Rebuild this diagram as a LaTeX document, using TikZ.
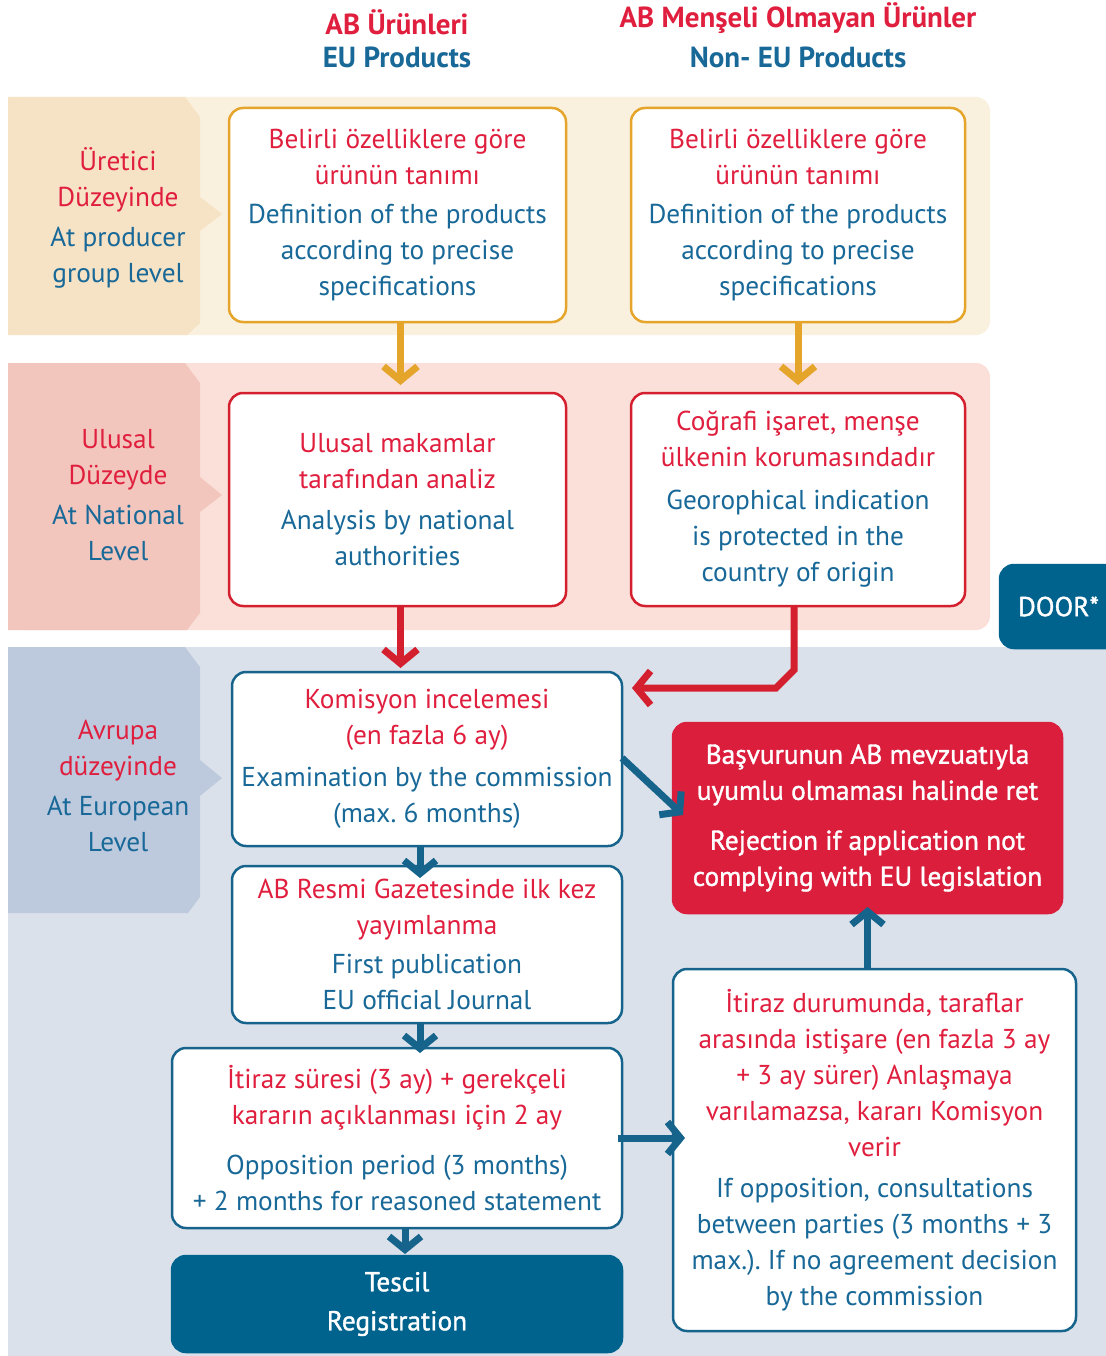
\documentclass[tikz,border=0pt]{standalone}
\usepackage{fontspec}
\setmainfont{PT Sans}
\newfontfamily\semib[FakeBold=1.3]{PT Sans}
\usetikzlibrary{arrows.meta}
\definecolor{tred}{RGB}{224,30,62}
\definecolor{tblue}{RGB}{24,104,152}
\definecolor{bandA}{RGB}{250,240,222}
\definecolor{tabA}{RGB}{246,226,196}
\definecolor{bandB}{RGB}{250,224,217}
\definecolor{tabB}{RGB}{242,198,188}
\definecolor{bandC}{RGB}{219,225,235}
\definecolor{tabC}{RGB}{189,202,221}
\definecolor{lineO}{RGB}{228,165,42}
\definecolor{lineR}{RGB}{212,32,46}
\definecolor{lineB}{RGB}{22,100,140}
\definecolor{darkblue}{RGB}{0,99,142}
\definecolor{rejred}{RGB}{218,30,60}
\newcommand\bl[1]{\textcolor{tblue}{#1}}
\frenchspacing
\begin{document}
\frenchspacing
\begin{tikzpicture}[x=1pt,y=-1pt,
  every node/.style={inner sep=0pt, outer sep=0pt},
  txt/.style={font=\fontsize{27.3}{36}\selectfont, align=center, text=tred},
  head/.style={font=\bfseries\fontsize{29}{34}\selectfont, align=center},
  boxbase/.style={txt, line width=2.5pt, rounded corners=14pt, fill=white, anchor=north west},
  obox/.style={boxbase, draw=lineO},
  rbox/.style={boxbase, draw=lineR},
  bbox/.style={boxbase, draw=lineB},
  rejbox/.style={boxbase, fill=rejred, draw=rejred, text=white, font=\semib\fontsize{27.3}{36}\selectfont},
  regbox/.style={boxbase, fill=darkblue, draw=darkblue, text=white, font=\semib\fontsize{27.3}{36}\selectfont},
  conn/.style={line width=7pt},
  oarr/.style={conn, draw=lineO, -{Straight Barb[length=14pt,width=34pt]}},
  rarr/.style={conn, draw=lineR, -{Straight Barb[length=14pt,width=34pt]}},
  barr/.style={conn, draw=lineB, -{Straight Barb[length=13pt,width=32pt]}},
]
\useasboundingbox (0,0) rectangle (1105,1356);
\fill[white] (0,0) rectangle (1105,1356);

% bands
\fill[bandA, rounded corners=14pt] (8,97) rectangle (990,335);
\fill[tabA] (8,97) -- (185,97) -- (200,117) -- (200,197) -- (222,214) -- (200,231) -- (200,323) -- (187,335) -- (8,335) -- cycle;
\fill[bandB, rounded corners=14pt] (8,363) rectangle (990,630);
\fill[tabB] (8,363) -- (185,363) -- (200,383) -- (200,477) -- (222,495) -- (200,512) -- (200,613) -- (187,630) -- (8,630) -- cycle;
\fill[bandC] (8,647) rectangle (1110,1360);
\fill[tabC] (8,647) -- (185,647) -- (200,667) -- (200,760) -- (222,778) -- (200,796) -- (200,897) -- (188,913) -- (8,913) -- cycle;

% headers
\node[head, text=tred] (h1a) at (397,22) {AB Ürünleri};
\node[head, text=tblue] (h1b) at (397,57) {EU Products};
\node[head, text=tred] (h2a) at (798,18) {AB Menşeli Olmayan Ürünler};
\node[head, text=tblue] (h2b) at (798,57) {Non- EU Products};

% left labels
\node[txt] (l1) at (118,218) {Üretici\\Düzeyinde\\[4pt]\bl{At producer}\\\bl{group level}};
\node[txt] (l2) at (118,495) {Ulusal\\Düzeyde\\[4pt]\bl{At National}\\\bl{Level}};
\node[txt] (l3) at (118,786) {Avrupa\\düzeyinde\\[4pt]\bl{At European}\\\bl{Level}};

% producer level
\node[obox, minimum width=337pt, minimum height=214pt] (p1) at (229,108)
  {Belirli özelliklere göre\\ürünün tanımı\\[3pt]\bl{Definition of the products}\\\bl{according to precise}\\\bl{specifications}};
\node[obox, minimum width=334pt, minimum height=214pt] (p2) at (631,108)
  {Belirli özelliklere göre\\ürünün tanımı\\[3pt]\bl{Definition of the products}\\\bl{according to precise}\\\bl{specifications}};

% national level
\node[rbox, minimum width=337pt, minimum height=213pt] (n1) at (229,393)
  {Ulusal makamlar\\tarafından analiz\\[5pt]\bl{Analysis by national}\\\bl{authorities}};
\node[rbox, minimum width=334pt, minimum height=213pt] (n2) at (631,393)
  {Coğrafi işaret, menşe\\ülkenin korumasındadır\\[7pt]\bl{Georophical indication}\\\bl{is protected in the}\\\bl{country of origin}};

\node[regbox, minimum width=130pt, minimum height=83pt, text width=110pt, align=left] (door) at (1000,565)
  {\hspace*{8pt}DOOR*};

% european level
\node[bbox, minimum width=390pt, minimum height=174pt] (k) at (232,672)
  {Komisyon incelemesi\\(en fazla 6 ay)\\[6pt]\bl{Examination by the commission}\\\bl{(max. 6 months)}};
\node[rejbox, minimum width=389pt, minimum height=190pt] (rej) at (673,723)
  {Başvurunun AB mevzuatıyla\\uyumlu olmaması halinde ret\\[14pt]Rejection if application not\\complying with EU legislation};
\node[bbox, minimum width=390pt, minimum height=157pt] (g) at (232,866)
  {AB Resmi Gazetesinde ilk kez\\yayımlanma\\[3pt]\bl{First publication}\\\bl{EU official Journal}};
\node[bbox, minimum width=450pt, minimum height=180pt] (o) at (172,1048)
  {İtiraz süresi (3 ay) + gerekçeli\\kararın açıklanması için 2 ay\\[14pt]\bl{Opposition period (3 months)}\\\bl{+ 2 months for reasoned statement}};
\node[regbox, minimum width=450pt, minimum height=96pt] (reg) at (172,1256)
  {Tescil\\[3pt]Registration};
\node[bbox, minimum width=403pt, minimum height=362pt] (rr) at (673,969)
  {İtiraz durumunda, taraflar\\arasında istişare (en fazla 3 ay\\+ 3 ay sürer) Anlaşmaya\\varılamazsa, kararı Komisyon\\verir\\[5pt]\bl{If opposition, consultations}\\\bl{between parties (3 months + 3}\\\bl{max.). If no agreement decision}\\\bl{by the commission}};

% connectors
\draw[oarr, shorten >=8pt] ([xshift=3pt]p1.south) -- ([xshift=3pt]p1.south |- n1.north);
\draw[oarr, shorten >=8pt] (p2.south) -- (p2.south |- n2.north);
\draw[rarr, shorten >=4pt] ([xshift=3pt]n1.south) -- ([xshift=3pt]n1.south |- k.north);
\draw[rarr, shorten >=10pt] ([xshift=-4pt]n2.south) -- ++(0,64) -- ++(-18,18) coordinate (bend) -- (k.east |- bend);
\draw[barr] ([xshift=-7pt]k.south) -- ([xshift=-7pt,yshift=-12pt]k.south |- g.north);
\draw[barr] ([xshift=-7pt]g.south) -- ([xshift=-7pt,yshift=-5pt]g.south |- o.north);
\draw[barr] ([xshift=8pt]o.south) -- ([xshift=8pt,yshift=2pt]o.south |- reg.north);
\draw[barr] ([yshift=1pt]k.east) -- ++(61,57);
\draw[barr] ([xshift=-4pt]o.east) -- ([xshift=12pt]o.east -| rr.west);
\draw[barr] (rej.south |- rr.north) -- ([yshift=6pt]rej.south);
\end{tikzpicture}
\end{document}
